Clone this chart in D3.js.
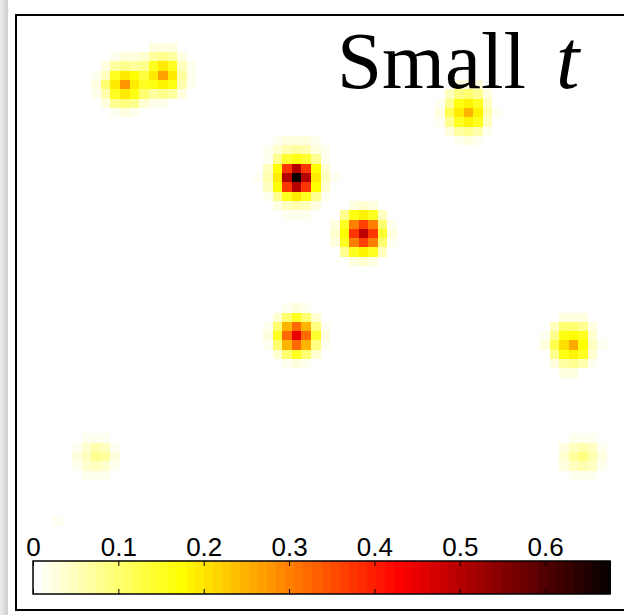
<!DOCTYPE html>
<html>
<head>
<meta charset="utf-8">
<script src="https://cdn.jsdelivr.net/npm/d3@7"></script>
<style>
  html, body { margin: 0; padding: 0; background: #fff; }
  svg { display: block; }
</style>
</head>
<body>
<div id="chart"></div>
<script>
const gridSize = 64;
const valueMax = 0.676;
const tickValues = [0, 0.1, 0.2, 0.3, 0.4, 0.5, 0.6];
const tickLabels = ['0', '0.1', '0.2', '0.3', '0.4', '0.5', '0.6'];

// top-left [col, row] of each patch below
const patchCorners = [[8, 3], [44, 7], [25, 13], [33, 20], [26, 31], [55, 32], [6, 45], [57, 45], [4, 54]];

const pairTopLeft = [
  [0, 0, 0, 0, 0, 0, 0.03, 0.03, 0.03, 0, 0],
  [0, 0, 0.02, 0.03, 0.03, 0.04, 0.07, 0.08, 0.07, 0.03, 0],
  [0, 0.03, 0.07, 0.08, 0.07, 0.08, 0.15, 0.2, 0.15, 0.05, 0.02],
  [0.02, 0.05, 0.15, 0.2, 0.17, 0.13, 0.2, 0.27, 0.2, 0.07, 0.02],
  [0.03, 0.1, 0.2, 0.28, 0.2, 0.15, 0.16, 0.19, 0.16, 0.06, 0.02],
  [0.02, 0.06, 0.15, 0.2, 0.16, 0.1, 0.07, 0.08, 0.07, 0.03, 0],
  [0, 0.03, 0.08, 0.09, 0.08, 0.04, 0.02, 0.02, 0, 0, 0],
  [0, 0, 0.02, 0.03, 0.02, 0, 0, 0, 0, 0, 0]
];
const spotTopRight = [
  [0, 0, 0.03, 0.03, 0.03, 0, 0],
  [0, 0.05, 0.09, 0.1, 0.08, 0.03, 0],
  [0.02, 0.08, 0.16, 0.18, 0.15, 0.05, 0],
  [0.03, 0.12, 0.2, 0.25, 0.18, 0.06, 0.02],
  [0.02, 0.08, 0.15, 0.18, 0.15, 0.05, 0],
  [0, 0.03, 0.07, 0.08, 0.06, 0.02, 0],
  [0, 0, 0.02, 0.03, 0.02, 0, 0]
];
const spotPeak = [
  [0, 0, 0.02, 0.03, 0.03, 0.03, 0.02, 0, 0],
  [0, 0.02, 0.04, 0.06, 0.07, 0.06, 0.03, 0.02, 0],
  [0, 0.02, 0.08, 0.14, 0.16, 0.14, 0.08, 0.02, 0],
  [0, 0.05, 0.17, 0.37, 0.5, 0.37, 0.17, 0.04, 0],
  [0.02, 0.06, 0.2, 0.5, 0.67, 0.5, 0.2, 0.05, 0.02],
  [0, 0.05, 0.17, 0.37, 0.5, 0.37, 0.17, 0.04, 0],
  [0, 0.02, 0.08, 0.15, 0.2, 0.15, 0.08, 0.02, 0],
  [0, 0, 0.03, 0.05, 0.06, 0.05, 0.03, 0, 0],
  [0, 0, 0, 0.02, 0.02, 0.02, 0, 0, 0]
];
const spotMiddle = [
  [0, 0, 0.03, 0.04, 0.03, 0, 0],
  [0, 0.08, 0.16, 0.18, 0.15, 0.05, 0],
  [0.03, 0.15, 0.3, 0.36, 0.3, 0.1, 0.02],
  [0.04, 0.17, 0.37, 0.49, 0.37, 0.14, 0.03],
  [0.03, 0.15, 0.3, 0.36, 0.3, 0.1, 0.02],
  [0, 0.08, 0.15, 0.18, 0.15, 0.05, 0],
  [0, 0, 0.03, 0.04, 0.03, 0, 0]
];
const spotLower = [
  [0, 0, 0.02, 0.03, 0.02, 0, 0],
  [0, 0.04, 0.1, 0.15, 0.1, 0.04, 0],
  [0.02, 0.1, 0.25, 0.32, 0.25, 0.09, 0.02],
  [0.03, 0.15, 0.32, 0.45, 0.32, 0.14, 0.03],
  [0.02, 0.1, 0.25, 0.32, 0.25, 0.09, 0.02],
  [0, 0.04, 0.1, 0.15, 0.1, 0.04, 0],
  [0, 0, 0.02, 0.03, 0.02, 0, 0]
];
const spotRight = [
  [0, 0, 0.03, 0.03, 0.03, 0, 0],
  [0, 0.05, 0.1, 0.1, 0.08, 0.03, 0],
  [0.02, 0.08, 0.16, 0.17, 0.15, 0.04, 0],
  [0.03, 0.12, 0.21, 0.26, 0.17, 0.05, 0.02],
  [0, 0.08, 0.16, 0.18, 0.15, 0.04, 0],
  [0, 0.03, 0.07, 0.08, 0.06, 0.02, 0],
  [0, 0, 0.03, 0.03, 0, 0, 0]
];
const faintLeft = [
  [0, 0.02, 0.02, 0.02, 0],
  [0.02, 0.04, 0.06, 0.05, 0.02],
  [0.03, 0.05, 0.08, 0.07, 0.03],
  [0.02, 0.04, 0.05, 0.04, 0.02],
  [0, 0.02, 0.02, 0.02, 0]
];
const faintRight = [
  [0, 0.02, 0.02, 0.02, 0],
  [0.03, 0.05, 0.06, 0.05, 0.02],
  [0.04, 0.07, 0.09, 0.06, 0.03],
  [0.03, 0.05, 0.06, 0.05, 0.02],
  [0, 0.02, 0.02, 0.02, 0]
];
const speck = [[0.015]];

const patches = [pairTopLeft, spotTopRight, spotPeak, spotMiddle, spotLower, spotRight, faintLeft, faintRight, speck];

const width = 624, height = 615;

const svg = d3.select('#chart').append('svg')
    .attr('width', width)
    .attr('height', height);

// reversed "hot" colormap, 64 steps
function hotReversed(k) {
    const j = 64 - k;
    const r = Math.min(j / 24, 1);
    const g = Math.max(0, Math.min((j - 24) / 24, 1));
    const b = Math.max(0, Math.min((j - 48) / 16, 1));
    return d3.rgb(r * 255, g * 255, b * 255).formatHex();
}
const level = v => Math.max(0, Math.min(63, Math.floor(v / valueMax * 64)));
const color = v => hotReversed(level(v));

// left page shadow
const defs = svg.append('defs');
const grad = defs.append('linearGradient').attr('id', 'shade')
    .attr('x1', 0).attr('x2', 1).attr('y1', 0).attr('y2', 0);
grad.append('stop').attr('offset', '0%').attr('stop-color', '#ececec');
grad.append('stop').attr('offset', '100%').attr('stop-color', '#cdcdcd');
svg.append('rect').attr('x', 0).attr('y', 0).attr('width', 8).attr('height', height)
    .attr('fill', 'url(#shade)');

const x = d3.scaleLinear().domain([0, gridSize]).range([15, 626]);
const y = d3.scaleLinear().domain([0, gridSize]).range([15, 610]);

const cells = [];
patches.forEach((p, i) => {
    const [c0, r0] = patchCorners[i];
    p.forEach((row, dr) => row.forEach((v, dc) => {
        if (v > 0) cells.push({ c: c0 + dc, r: r0 + dr, v: v });
    }));
});

svg.append('g').attr('class', 'cells').selectAll('rect')
    .data(cells)
    .enter().append('rect')
    .attr('x', d => x(d.c))
    .attr('y', d => y(d.r))
    .attr('width', d => x(d.c + 1) - x(d.c))
    .attr('height', d => y(d.r + 1) - y(d.r))
    .attr('fill', d => color(d.v))
    .attr('shape-rendering', 'crispEdges');

// frame
svg.append('rect')
    .attr('x', 16).attr('y', 15)
    .attr('width', 612).attr('height', 595)
    .attr('fill', 'none')
    .attr('stroke', '#000')
    .attr('stroke-width', 2);

// title
const title = svg.append('g').attr('class', 'title')
    .attr('font-family', '"Liberation Serif", "DejaVu Serif", serif')
    .attr('font-size', 81)
    .attr('fill', '#000');
title.append('text').attr('x', 337).attr('y', 88).text('Small');
title.append('text').attr('x', 556).attr('y', 88).attr('font-style', 'italic')
    .attr('font-size', 84).text('t');

// colorbar
const cbX = d3.scaleLinear().domain([0, valueMax]).range([33, 610]);
const cbTop = 561, cbH = 33;
const bands = d3.range(64);
const cb = svg.append('g').attr('class', 'colorbar');
cb.selectAll('rect.band')
    .data(bands)
    .enter().append('rect')
    .attr('class', 'band')
    .attr('x', k => cbX(k * valueMax / 64))
    .attr('y', cbTop)
    .attr('width', k => cbX((k + 1) * valueMax / 64) - cbX(k * valueMax / 64) + 0.5)
    .attr('height', cbH)
    .attr('fill', k => hotReversed(k))
    .attr('shape-rendering', 'crispEdges');

const topAxis = d3.axisTop(cbX)
    .tickValues(tickValues)
    .tickFormat((d, i) => tickLabels[i])
    .tickSize(-5)
    .tickPadding(5);
const gTop = cb.append('g').attr('transform', `translate(0,${cbTop})`).call(topAxis);
gTop.select('.domain').remove();
gTop.selectAll('text')
    .attr('font-family', '"Liberation Sans", Arial, sans-serif')
    .attr('font-size', 26)
    .attr('fill', '#000');
gTop.selectAll('line').attr('stroke', '#000');

const bottomAxis = d3.axisBottom(cbX)
    .tickValues(tickValues)
    .tickFormat('')
    .tickSize(-5);
const gBot = cb.append('g').attr('transform', `translate(0,${cbTop + cbH})`).call(bottomAxis);
gBot.select('.domain').remove();
gBot.selectAll('line').attr('stroke', '#000');

cb.append('rect')
    .attr('x', cbX(0)).attr('y', cbTop)
    .attr('width', cbX(valueMax) - cbX(0)).attr('height', cbH)
    .attr('fill', 'none')
    .attr('stroke', '#000')
    .attr('stroke-width', 1.5);
</script>
</body>
</html>
